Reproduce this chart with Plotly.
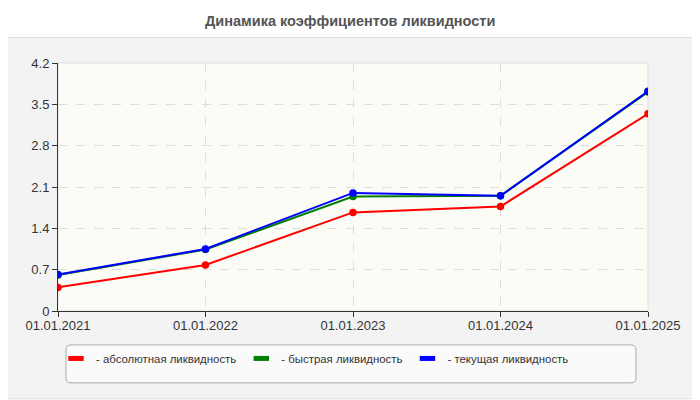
import plotly.graph_objects as go

dates = ["01.01.2021", "01.01.2022", "01.01.2023", "01.01.2024", "01.01.2025"]
absolute_liq = [0.40, 0.78, 1.67, 1.77, 3.34]
quick_liq = [0.61, 1.04, 1.94, 1.95, 3.71]
current_liq = [0.62, 1.05, 2.00, 1.95, 3.72]
series_names = ["- абсолютная ликвидность", "- быстрая ликвидность", "- текущая ликвидность"]
series_colors = ["#ff0000", "#008000", "#0000ff"]
y_ticks = [0, 0.7, 1.4, 2.1, 2.8, 3.5, 4.2]
y_tick_labels = ["0", "0.7", "1.4", "2.1", "2.8", "3.5", "4.2"]

# the page body has an 8px margin; layout below is given in page pixels
OFF = 8
W, H = 700 - OFF, 400 - OFF
PL, PR, PT, PB = 58, 648, 62.5, 311  # plot area in page pixels
L = PL - OFF
T = PT - OFF
R = W - (PR - OFF)
B = H - (PB - OFF)
pw, ph = W - L - R, H - T - B


def px_x(p):
    return (p - PL) / pw


def px_y(p):
    return (PB - p) / ph


def rounded_rect(x0, y0, x1, y1, r):
    X = px_x
    Y = px_y
    return (
        f"M {X(x0 + r)} {Y(y0)} L {X(x1 - r)} {Y(y0)} Q {X(x1)} {Y(y0)} {X(x1)} {Y(y0 + r)} "
        f"L {X(x1)} {Y(y1 - r)} Q {X(x1)} {Y(y1)} {X(x1 - r)} {Y(y1)} "
        f"L {X(x0 + r)} {Y(y1)} Q {X(x0)} {Y(y1)} {X(x0)} {Y(y1 - r)} "
        f"L {X(x0)} {Y(y0 + r)} Q {X(x0)} {Y(y0)} {X(x0 + r)} {Y(y0)} Z"
    )


font_family = "Liberation Sans, Arial, sans-serif"

fig = go.Figure()
for vals, name, col in zip([absolute_liq, quick_liq, current_liq], series_names, series_colors):
    fig.add_trace(go.Scatter(
        x=dates, y=vals, mode="lines+markers", name=name,
        line=dict(color=col, width=2), marker=dict(color=col, size=7.5),
        showlegend=False, hoverinfo="skip",
    ))
for name, col in zip(series_names, series_colors):
    fig.add_trace(go.Scatter(
        x=[None], y=[None], mode="markers", name=name,
        marker=dict(symbol="line-ew", size=11, color=col, line=dict(color=col, width=7)),
        showlegend=True,
    ))

shapes = [
    dict(type="path", xref="paper", yref="paper", path=rounded_rect(1, 37, 697, 399, 8),
         fillcolor="#f3f3f3", line=dict(color="#dddddd", width=1), layer="below"),
    dict(type="rect", xref="paper", yref="paper", x0=0, y0=0, x1=1, y1=1,
         fillcolor="#fcfcf7", line=dict(color="#dddddd", width=1), layer="below"),
    dict(type="path", xref="paper", yref="paper", path=rounded_rect(66, 345, 636, 383, 5),
         fillcolor="#fafafa", line=dict(color="#aaaaaa", width=1), layer="below"),
]

annotations = [
    dict(text="<b>Динамика коэффициентов ликвидности</b>", xref="paper", yref="paper",
         x=px_x(350), y=px_y(20), xanchor="center", yanchor="middle", showarrow=False,
         font=dict(family=font_family, size=14.5, color="#555555")),
]

fig.update_layout(
    width=W, height=H,
    margin=dict(l=L, r=R, t=T, b=B, autoexpand=False),
    paper_bgcolor="white",
    plot_bgcolor="rgba(0,0,0,0)",
    font=dict(family=font_family, size=12, color="#333333"),
    xaxis=dict(type="category", range=[0, 4], showgrid=True, gridcolor="#dddddd", griddash="dash",
               gridwidth=1, showline=True, linecolor="#333333", linewidth=1,
               ticks="outside", ticklen=5, tickcolor="#333333", zeroline=False,
               ticklabelstandoff=-3,
               automargin=False, tickfont=dict(size=13, color="#333333")),
    yaxis=dict(range=[0, 4.2], tickvals=y_ticks, ticktext=y_tick_labels, showgrid=True,
               gridcolor="#dddddd", griddash="dash", showline=True, linecolor="#333333",
               linewidth=1, ticks="outside", ticklen=5, tickcolor="#333333", zeroline=False,
               automargin=False, tickfont=dict(size=13, color="#333333")),
    legend=dict(orientation="h", x=px_x(56), y=px_y(344), xanchor="left", yanchor="top",
                bgcolor="rgba(0,0,0,0)", borderwidth=0, itemsizing="trace",
                font=dict(family=font_family, size=11.4, color="#333333")),
    shapes=shapes,
    annotations=annotations,
)

fig.write_html("out.html")
